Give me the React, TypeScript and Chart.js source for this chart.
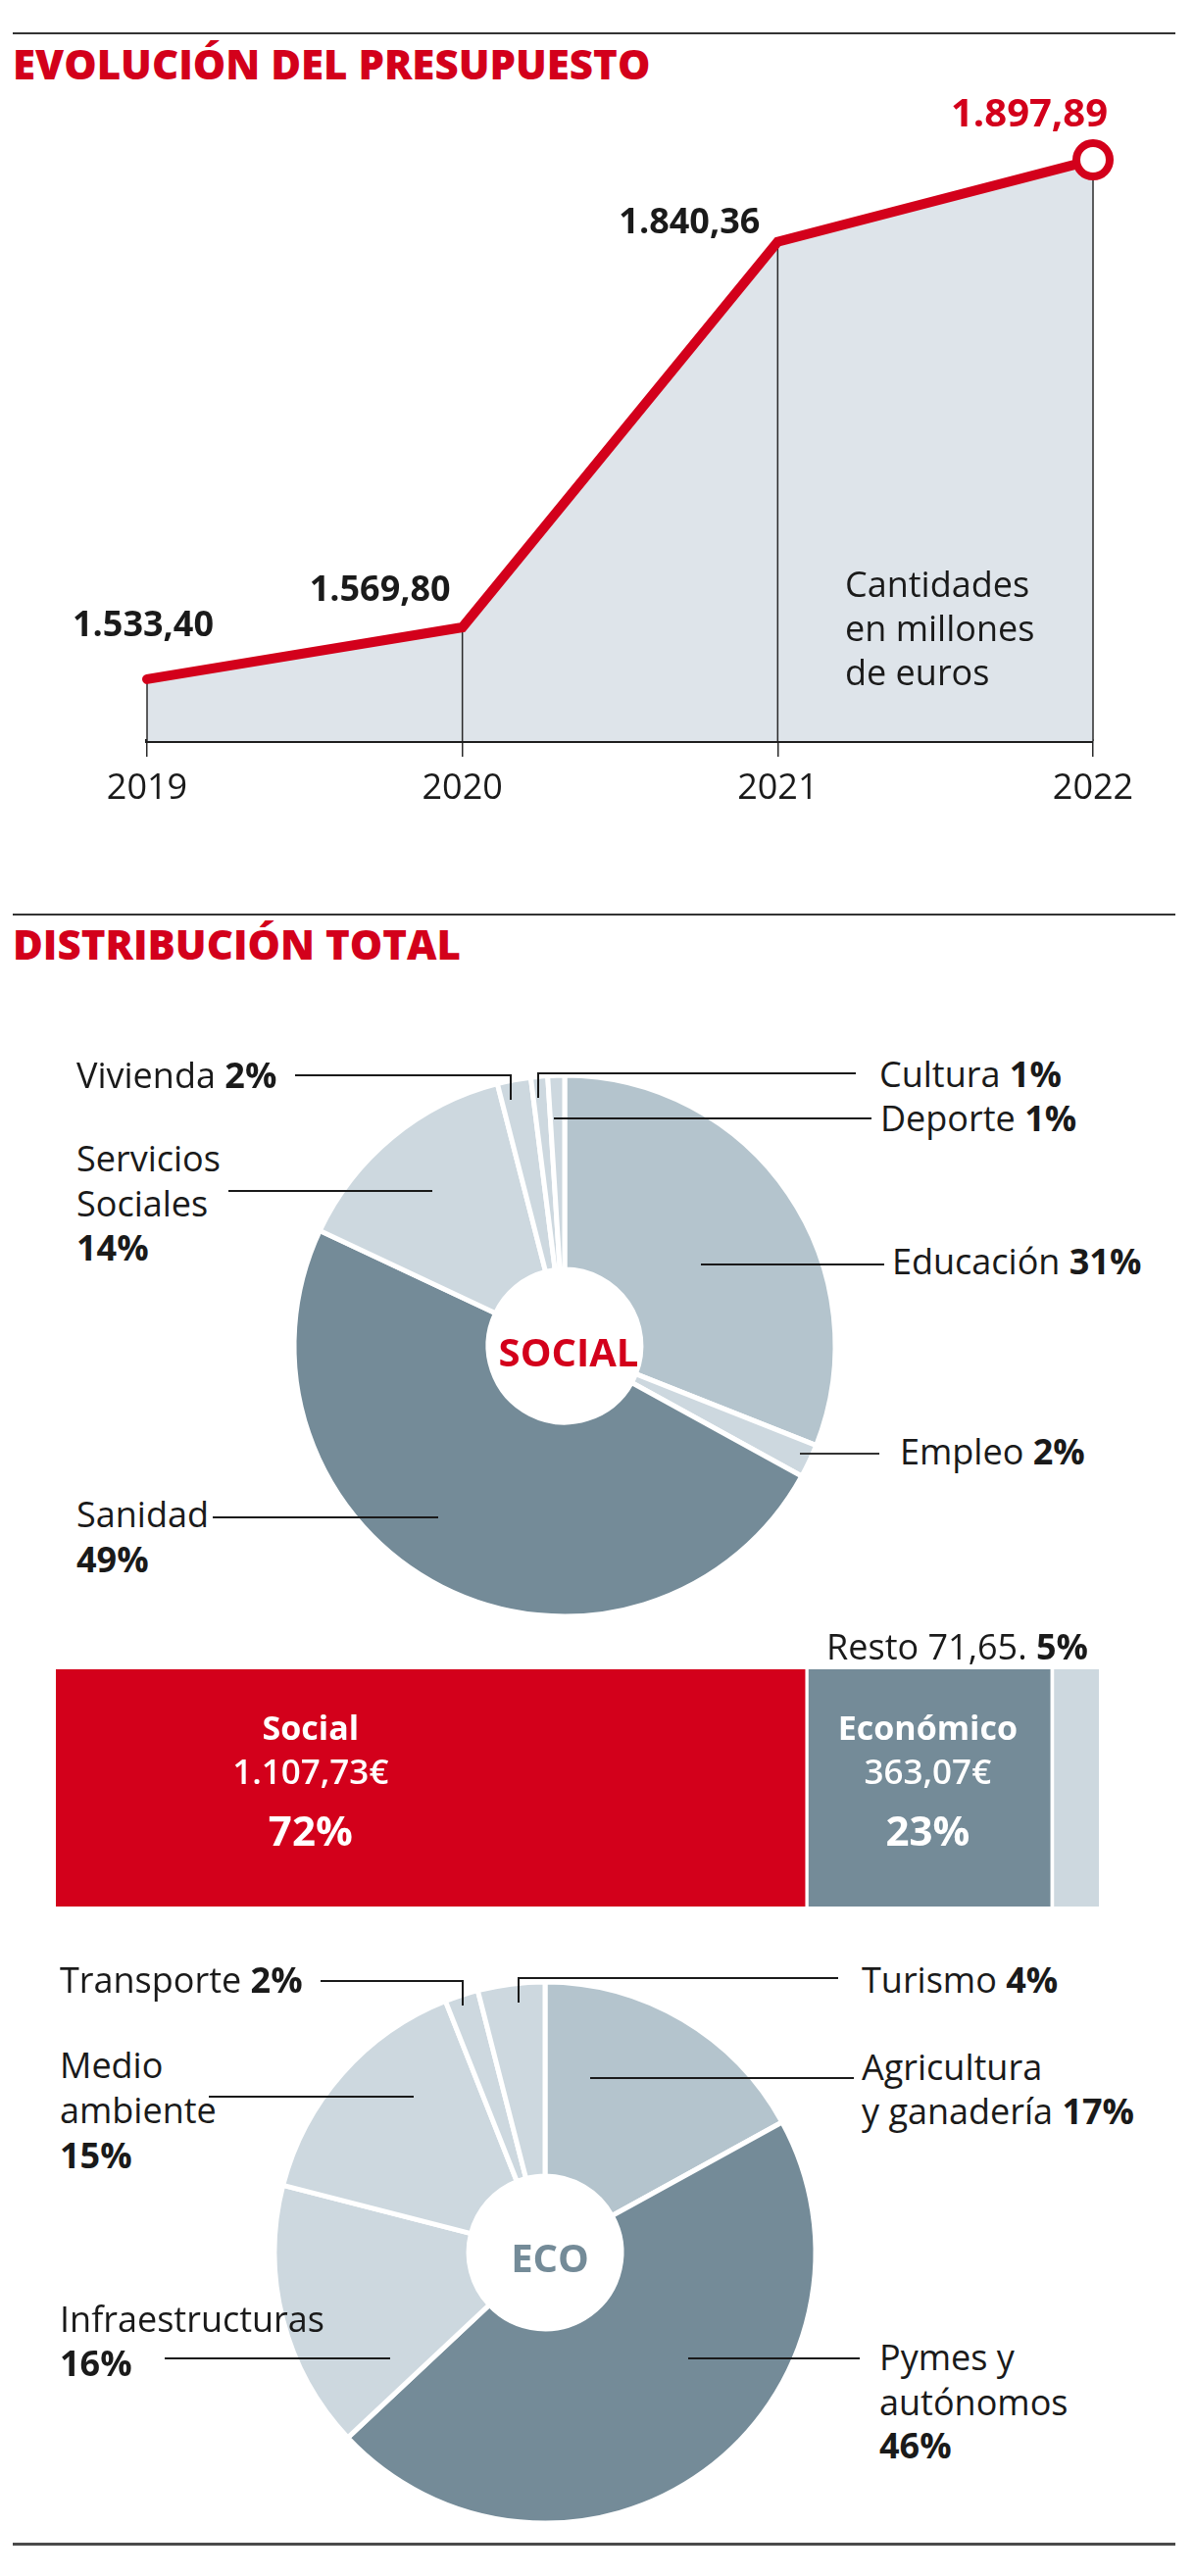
import React, { useEffect, useRef } from "react";
import { Chart, registerables } from "chart.js";

Chart.register(...registerables);

// ---------- DATA ----------
const years = ["2019", "2020", "2021", "2022"];
const budget = [1533.4, 1569.8, 1840.36, 1897.89];

const socialLabels = ["Educación", "Empleo", "Sanidad", "Servicios Sociales", "Vivienda", "Cultura", "Deporte"];
const socialShares = [31, 2, 49, 14, 2, 1, 1];

const groupLabels = ["Social", "Económico", "Resto"];
const groupAmounts = [1107.73, 363.07, 71.65];
const groupPercents = [72, 23, 5];

const ecoLabels = ["Agricultura y ganadería", "Pymes y autónomos", "Infraestructuras", "Medio ambiente", "Transporte", "Turismo"];
const ecoShares = [17, 46, 16, 15, 2, 4];

// ---------- STYLE ----------
const RED = "#d3001b";
const DARK = "#748b98";
const MID = "#b4c4cd";
const LIGHT = "#cdd8df";
const INK = "#1a1a1a";
const FONT = "'Open Sans', 'Noto Sans', sans-serif";

const socialColors = [MID, LIGHT, DARK, LIGHT, LIGHT, LIGHT, LIGHT];
const ecoColors = [MID, DARK, LIGHT, LIGHT, LIGHT, LIGHT];
const barColors = [RED, DARK, LIGHT];

function fmt(n: number): string {
  const [i, d] = n.toFixed(2).split(".");
  return i.replace(/\B(?=(\d{3})+(?!\d))/g, ".") + "," + d;
}

function T(props: any) {
  const { x, y, size = 36, weight = 400, color = INK, align = "left", children } = props;
  const tx = align === "center" ? "translateX(-50%)" : align === "right" ? "translateX(-100%)" : "none";
  return (
    <div
      style={{
        position: "absolute",
        left: x,
        top: y - size / 2 - 0.03 * size,
        fontFamily: FONT,
        fontSize: size,
        fontWeight: weight,
        color,
        lineHeight: `${size}px`,
        whiteSpace: "nowrap",
        transform: tx,
      }}
    >
      {children}
    </div>
  );
}

function HL({ x1, x2, y, w = 2.5, c = INK }: any) {
  return <div style={{ position: "absolute", left: x1, top: y - w / 2, width: x2 - x1, height: w, background: c }} />;
}
function VL({ x, y1, y2, w = 2.5, c = INK }: any) {
  return <div style={{ position: "absolute", left: x - w / 2, top: y1, width: w, height: y2 - y1, background: c }} />;
}
function Rule({ y, h = 2, c = "#333" }: any) {
  return <div style={{ position: "absolute", left: 13, top: y, width: 1186, height: h, background: c }} />;
}

function LineChart() {
  const ref = useRef<HTMLCanvasElement>(null);
  useEffect(() => {
    const offsets = [
      [-4, -54, 36, INK],
      [-84, -37, 36, INK],
      [-90, -19, 36, INK],
      [-65, -45, 40, RED],
    ];
    const plugin = {
      id: "dropAndLabels",
      beforeDatasetsDraw(chart: any) {
        const meta = chart.getDatasetMeta(0);
        const ctx = chart.ctx;
        const bottom = chart.chartArea.bottom;
        ctx.save();
        ctx.strokeStyle = "#2a2a2a";
        ctx.lineWidth = 1.5;
        meta.data.forEach((p: any) => {
          ctx.beginPath();
          ctx.moveTo(p.x, p.y);
          ctx.lineTo(p.x, bottom);
          ctx.stroke();
        });
        ctx.restore();
      },
      afterDatasetsDraw(chart: any) {
        const meta = chart.getDatasetMeta(0);
        const ctx = chart.ctx;
        ctx.save();
        ctx.textAlign = "center";
        ctx.textBaseline = "middle";
        meta.data.forEach((p: any, i: number) => {
          const [dx, dy, size, color] = offsets[i] as any;
          ctx.font = `700 ${size}px ${FONT}`;
          ctx.fillStyle = color;
          ctx.fillText(fmt(budget[i]), p.x + dx, p.y + dy);
        });
        ctx.restore();
      },
    };
    const chart = new Chart(ref.current as HTMLCanvasElement, {
      type: "line",
      data: {
        labels: years,
        datasets: [
          {
            data: budget,
            borderColor: RED,
            borderWidth: 10,
            borderCapStyle: "round",
            fill: "start",
            backgroundColor: "#dee4ea",
            tension: 0,
            pointRadius: [0, 0, 0, 17],
            pointBorderWidth: 8,
            pointBackgroundColor: "#ffffff",
            pointBorderColor: RED,
            clip: false,
          } as any,
        ],
      },
      options: {
        responsive: false,
        animation: false,
        events: [],
        layout: { padding: { left: 150, right: 103, top: 160, bottom: 0 } },
        plugins: {
          legend: { display: false },
          tooltip: { enabled: false },
          filler: { drawTime: "beforeDatasetsDraw" } as any,
        },
        scales: {
          x: {
            type: "category",
            offset: false,
            grid: { drawOnChartArea: false, drawTicks: true, tickLength: 16, color: "#2a2a2a", lineWidth: 1.5 },
            border: { display: true, width: 4, color: "#1e1e1e" },
            ticks: { color: INK, font: { family: FONT, size: 36 }, padding: 11, maxRotation: 0, autoSkip: false },
            afterFit: (s: any) => {
              s.height = 104;
            },
          },
          y: { display: false, min: 1490, max: 1900 },
        },
      },
      plugins: [plugin],
    } as any);
    return () => chart.destroy();
  }, []);
  return <canvas ref={ref} width={1218} height={860} style={{ position: "absolute", left: 0, top: 0, width: 1218, height: 860 }} />;
}

function Donut({ labels, values, colors, left, top }: any) {
  const ref = useRef<HTMLCanvasElement>(null);
  useEffect(() => {
    const chart = new Chart(ref.current as HTMLCanvasElement, {
      type: "doughnut",
      data: {
        labels,
        datasets: [{ data: values, backgroundColor: colors, borderColor: "#ffffff", borderWidth: 5 }],
      },
      options: {
        responsive: false,
        animation: false,
        events: [],
        cutout: 84,
        radius: 276,
        plugins: { legend: { display: false }, tooltip: { enabled: false } },
      },
    } as any);
    return () => chart.destroy();
  }, []);
  return <canvas ref={ref} width={600} height={600} style={{ position: "absolute", left, top, width: 600, height: 600 }} />;
}

function StackBar() {
  const ref = useRef<HTMLCanvasElement>(null);
  useEffect(() => {
    const total = groupAmounts.reduce((a, b) => a + b, 0);
    const anchor = [0.34, 0.5];
    const plugin = {
      id: "barLabels",
      afterDatasetsDraw(chart: any) {
        const ctx = chart.ctx;
        ctx.save();
        ctx.textAlign = "center";
        ctx.textBaseline = "middle";
        ctx.fillStyle = "#ffffff";
        [0, 1].forEach((i) => {
          const el = chart.getDatasetMeta(i).data[0];
          const x = el.base + (el.x - el.base) * anchor[i];
          const cy = el.y;
          ctx.font = `700 34px ${FONT}`;
          ctx.fillText(groupLabels[i], x, cy - 59);
          ctx.font = `600 35px ${FONT}`;
          ctx.fillText(fmt(groupAmounts[i]) + "€", x, cy - 14);
          ctx.font = `700 42px ${FONT}`;
          ctx.fillText(groupPercents[i] + "%", x, cy + 47);
        });
        ctx.restore();
      },
    };
    const chart = new Chart(ref.current as HTMLCanvasElement, {
      type: "bar",
      data: {
        labels: ["Total"],
        datasets: groupLabels.map((l, i) => ({
          label: l,
          data: [groupAmounts[i]],
          backgroundColor: barColors[i],
          borderColor: "#ffffff",
          borderWidth: i === 0 ? 0 : { left: 4, top: 0, right: 0, bottom: 0 },
          borderSkipped: false,
          barPercentage: 1,
          categoryPercentage: 1,
        })),
      },
      options: {
        indexAxis: "y",
        responsive: false,
        animation: false,
        events: [],
        layout: { padding: { left: 57, right: 97, top: 13, bottom: 15 } },
        plugins: { legend: { display: false }, tooltip: { enabled: false } },
        scales: {
          x: { stacked: true, display: false, min: 0, max: total },
          y: { stacked: true, display: false },
        },
      },
      plugins: [plugin],
    } as any);
    return () => chart.destroy();
  }, []);
  return <canvas ref={ref} width={1218} height={270} style={{ position: "absolute", left: 0, top: 1690, width: 1218, height: 270 }} />;
}

export default function App() {
  return (
    <div style={{ position: "relative", width: 1218, height: 2628, background: "#fff", overflow: "hidden" }}>
      <style>{"body{margin:0;background:#fff}"}</style>
      <Rule y={33} />
      <T x={13} y={66} size={42} weight={800} color={RED}>EVOLUCIÓN DEL PRESUPUESTO</T>
      <LineChart />
      <T x={862} y={597}>Cantidades</T>
      <T x={862} y={642}>en millones</T>
      <T x={862} y={687}>de euros</T>

      <Rule y={932} />
      <T x={13} y={964} size={42} weight={800} color={RED}>DISTRIBUCIÓN TOTAL</T>

      <Donut labels={socialLabels} values={socialShares} colors={socialColors} left={276} top={1073} />
      <T x={580} y={1380} size={40} weight={700} color={RED} align="center">SOCIAL</T>

      <T x={78} y={1098.5}>{socialLabels[4]} <b>{socialShares[4]}%</b></T>
      <HL x1={301} x2={522} y={1097} />
      <VL x={521} y1={1096} y2={1122} />
      <T x={897} y={1097}>{socialLabels[5]} <b>{socialShares[5]}%</b></T>
      <HL x1={549} x2={873} y={1095} />
      <VL x={549} y1={1094} y2={1120} />
      <T x={898} y={1142}>{socialLabels[6]} <b>{socialShares[6]}%</b></T>
      <HL x1={565} x2={889} y={1141} />
      <T x={78} y={1183.5}>Servicios</T>
      <T x={78} y={1229.5}>Sociales</T>
      <T x={78} y={1274.5} weight={700}>{socialShares[3]}%</T>
      <HL x1={233} x2={441} y={1215} />
      <T x={910} y={1288}>{socialLabels[0]} <b>{socialShares[0]}%</b></T>
      <HL x1={715} x2={902} y={1290} />
      <T x={918} y={1482}>{socialLabels[1]} <b>{socialShares[1]}%</b></T>
      <HL x1={816} x2={897} y={1483} w={1.5} c="#333" />
      <T x={78} y={1546}>{socialLabels[2]}</T>
      <T x={78} y={1592} weight={700}>{socialShares[2]}%</T>
      <HL x1={217} x2={447} y={1548} />

      <T x={1110} y={1681.5} align="right">
        {groupLabels[2]} {fmt(groupAmounts[2])}. <b>{groupPercents[2]}%</b>
      </T>
      <StackBar />

      <Donut labels={ecoLabels} values={ecoShares} colors={ecoColors} left={256} top={1998} />
      <T x={561} y={2304} size={40} weight={700} color={DARK} align="center">ECO</T>

      <T x={61} y={2021.5}>{ecoLabels[4]} <b>{ecoShares[4]}%</b></T>
      <HL x1={327} x2={472} y={2021} />
      <VL x={472} y1={2020} y2={2046} />
      <T x={879} y={2021}>{ecoLabels[5]} <b>{ecoShares[5]}%</b></T>
      <HL x1={529} x2={855} y={2018} />
      <VL x={529} y1={2017} y2={2043} />
      <T x={61} y={2108.5}>Medio</T>
      <T x={61} y={2154.5}>ambiente</T>
      <T x={61} y={2200} weight={700}>{ecoShares[3]}%</T>
      <HL x1={213} x2={422} y={2139} />
      <T x={879} y={2110}>Agricultura</T>
      <T x={879} y={2155}>y ganadería <b>{ecoShares[0]}%</b></T>
      <HL x1={602} x2={871} y={2120} />
      <T x={61} y={2367}>{ecoLabels[2]}</T>
      <T x={61} y={2412} weight={700}>{ecoShares[2]}%</T>
      <HL x1={168} x2={398} y={2406} />
      <T x={897} y={2406}>Pymes y</T>
      <T x={897} y={2452}>autónomos</T>
      <T x={897} y={2496} weight={700}>{ecoShares[1]}%</T>
      <HL x1={702} x2={877} y={2406} />

      <Rule y={2594} h={2.5} c="#4a4a4a" />
    </div>
  );
}
